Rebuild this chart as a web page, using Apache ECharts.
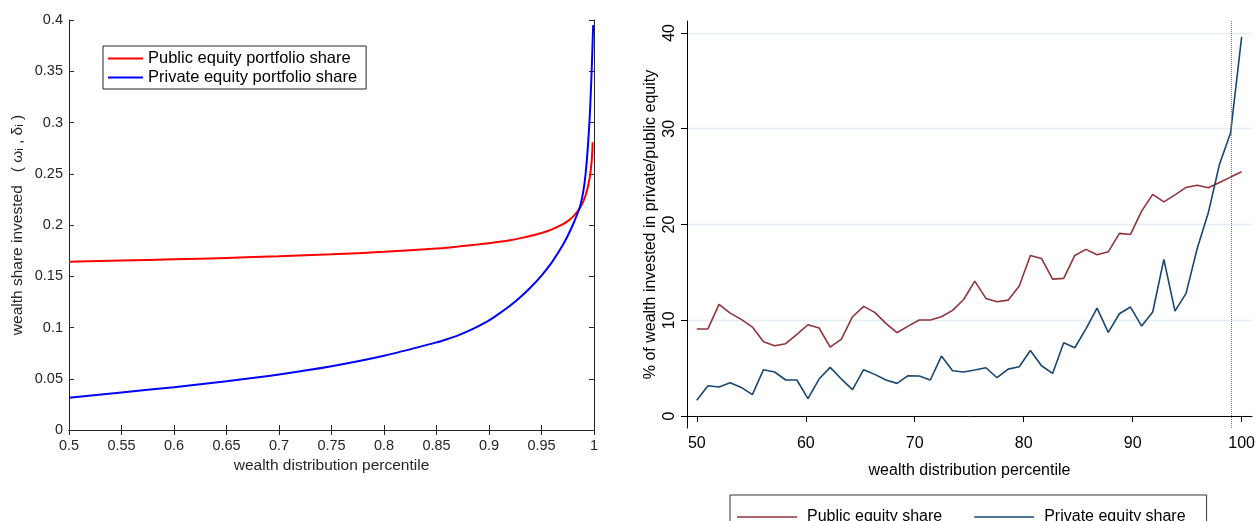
<!DOCTYPE html>
<html>
<head>
<meta charset="utf-8">
<script src="https://cdn.jsdelivr.net/npm/echarts@6/dist/echarts.min.js"></script>
<style>
html,body{margin:0;padding:0;background:#fff;}
#c{width:1258px;height:521px;}
</style>
</head>
<body>
<div id="c"></div>
<script>
// ---- Left panel (model) ----
var leftX = [0.5, 0.55, 0.6, 0.65, 0.7, 0.75, 0.8, 0.85, 0.86, 0.87, 0.88, 0.89, 0.9, 0.91, 0.92, 0.93, 0.94, 0.95, 0.96, 0.97, 0.975, 0.98, 0.984, 0.987, 0.99, 0.992, 0.994, 0.996, 0.997, 0.998, 0.9987, 0.9992];
var publicPortfolio = [0.1642, 0.1653, 0.1665, 0.1679, 0.1695, 0.1714, 0.1738, 0.1770, 0.1778, 0.1789, 0.1800, 0.1811, 0.1822, 0.1836, 0.1852, 0.1872, 0.1895, 0.1922, 0.1958, 0.2005, 0.2038, 0.2082, 0.2128, 0.2172, 0.2235, 0.2290, 0.2365, 0.2470, 0.2545, 0.2650, 0.2807, null];
var privatePortfolio = [0.0315, 0.0367, 0.0418, 0.0476, 0.0542, 0.0622, 0.0724, 0.0855, 0.0886, 0.0921, 0.0964, 0.1014, 0.1070, 0.1138, 0.1212, 0.1298, 0.1395, 0.1506, 0.1638, 0.1800, 0.1895, 0.2005, 0.2105, 0.2190, 0.2340, 0.2500, 0.2740, 0.3070, 0.3300, 0.3570, 0.3790, 0.3950];
var leftXTicks = [0.5, 1, 0.05];
var leftYTicks = [0, 0.4, 0.05];

// ---- Right panel (data) ----
var pctl = [50, 51.02, 52.04, 53.06, 54.08, 55.10, 56.12, 57.14, 58.16, 59.18, 60.20, 61.22, 62.24, 63.27, 64.29, 65.31, 66.33, 67.35, 68.37, 69.39, 70.41, 71.43, 72.45, 73.47, 74.49, 75.51, 76.53, 77.55, 78.57, 79.59, 80.61, 81.63, 82.65, 83.67, 84.69, 85.71, 86.73, 87.76, 88.78, 89.80, 90.82, 91.84, 92.86, 93.88, 94.90, 95.92, 96.94, 97.96, 98.98, 100];
var publicShare = [9.08, 9.10, 11.66, 10.75, 10.09, 9.29, 7.76, 7.34, 7.55, 8.53, 9.53, 9.19, 7.20, 8.04, 10.37, 11.45, 10.82, 9.67, 8.70, 9.39, 10.02, 10.02, 10.37, 11.03, 12.17, 14.09, 12.28, 11.93, 12.10, 13.57, 16.77, 16.46, 14.30, 14.37, 16.77, 17.40, 16.84, 17.15, 19.07, 18.96, 21.40, 23.14, 22.37, 23.10, 23.87, 24.10, 23.83, 24.39, 24.95, 25.50];
var privateShare = [1.64, 3.17, 3.03, 3.48, 2.99, 2.23, 4.84, 4.60, 3.76, 3.76, 1.81, 3.86, 5.08, 3.86, 2.75, 4.84, 4.35, 3.76, 3.41, 4.21, 4.18, 3.76, 6.26, 4.73, 4.60, 4.80, 5.04, 4.00, 4.90, 5.15, 6.85, 5.25, 4.45, 7.65, 7.13, 9.11, 11.27, 8.73, 10.68, 11.38, 9.39, 10.86, 16.36, 10.96, 12.81, 17.50, 21.22, 26.27, 29.55, 39.60];
var rightXTicks = [50, 60, 70, 80, 90, 100];
var rightYTicks = [0, 10, 20, 30, 40];
var refLineX = 99;

function zip(xs, ys) {
  var out = [];
  for (var i = 0; i < xs.length; i++) { if (ys[i] != null) out.push([xs[i], ys[i]]); }
  return out;
}
function fmt(v) { return String(+(+v).toFixed(2)); }

var FONT = '"Liberation Sans", Arial, Helvetica, sans-serif';
var mc = '#262626';

var chart = echarts.init(document.getElementById('c'), null, {renderer: 'canvas'});
chart.setOption({
  animation: false,
  backgroundColor: '#fff',
  textStyle: {fontFamily: FONT},
  grid: [
    {left: 69, top: 20, width: 525, height: 410},
    {left: 687, top: 21, width: 567, height: 407}
  ],
  legend: [
    {
      data: ['Public equity portfolio share', 'Private equity portfolio share'],
      orient: 'vertical', left: 103, top: 46, icon: 'rect',
      padding: [3, 9, 2, 5], itemWidth: 35, itemHeight: 2, itemGap: 0,
      textStyle: {fontSize: 16.5, color: '#000', lineHeight: 19, fontFamily: FONT},
      borderColor: mc, borderWidth: 1, backgroundColor: '#fff', selectedMode: false
    },
    {
      data: ['Public equity share', 'Private equity share'],
      orient: 'horizontal', left: 730, top: 495, icon: 'rect',
      padding: [12, 21, 20, 7], itemWidth: 60, itemHeight: 1.5, itemGap: 32,
      textStyle: {fontSize: 16, color: '#000', lineHeight: 20, padding: [0, 0, 0, 5], fontFamily: FONT},
      borderColor: '#333', borderWidth: 1, selectedMode: false
    }
  ],
  xAxis: [
    {
      gridIndex: 0, type: 'value', min: leftXTicks[0], max: leftXTicks[1], interval: leftXTicks[2],
      position: 'bottom',
      axisLine: {lineStyle: {color: mc, width: 1}},
      axisTick: {inside: true, length: 5, lineStyle: {color: mc}},
      axisLabel: {fontSize: 14.5, color: mc, margin: 8, formatter: fmt, fontFamily: FONT},
      splitLine: {show: false},
      name: 'wealth distribution percentile', nameLocation: 'middle', nameGap: 24,
      nameTextStyle: {fontSize: 15.5, color: mc, fontFamily: FONT}
    },
    {
      gridIndex: 0, type: 'value', min: leftXTicks[0], max: leftXTicks[1], interval: leftXTicks[2],
      position: 'top',
      axisLine: {lineStyle: {color: mc, width: 1}},
      axisTick: {inside: true, length: 5, lineStyle: {color: mc}},
      axisLabel: {show: false}, splitLine: {show: false}
    },
    {
      gridIndex: 1, type: 'value', min: 49.1, max: 100.95,
      axisLine: {lineStyle: {color: '#000', width: 1}},
      axisTick: {customValues: rightXTicks, length: 6, lineStyle: {color: '#000'}},
      axisLabel: {customValues: rightXTicks, fontSize: 16, color: '#000', margin: 8, fontFamily: FONT},
      splitLine: {show: false},
      name: 'wealth distribution percentile', nameLocation: 'middle', nameGap: 35,
      nameTextStyle: {fontSize: 16, color: '#000', fontFamily: FONT}
    }
  ],
  yAxis: [
    {
      gridIndex: 0, type: 'value', min: leftYTicks[0], max: leftYTicks[1], interval: leftYTicks[2],
      position: 'left',
      axisLine: {show: true, lineStyle: {color: mc, width: 1}},
      axisTick: {show: true, inside: true, length: 5, lineStyle: {color: mc}},
      axisLabel: {fontSize: 14.5, color: mc, margin: 6, formatter: fmt, fontFamily: FONT},
      splitLine: {show: false},
      name: 'wealth share invested   ( \u03c9\u1d62 , \u03b4\u1d62 )', nameLocation: 'middle', nameGap: 43,
      nameTextStyle: {fontSize: 15.5, color: mc, fontFamily: FONT}
    },
    {
      gridIndex: 0, type: 'value', min: leftYTicks[0], max: leftYTicks[1], interval: leftYTicks[2],
      position: 'right',
      axisLine: {show: true, lineStyle: {color: mc, width: 1}},
      axisTick: {show: true, inside: true, length: 5, lineStyle: {color: mc}},
      axisLabel: {show: false}, splitLine: {show: false}
    },
    {
      gridIndex: 1, type: 'value', min: -1.25, max: 41.25,
      axisLine: {show: true, lineStyle: {color: '#000', width: 1}},
      axisTick: {show: true, customValues: rightYTicks, length: 6, lineStyle: {color: '#000'}},
      axisLabel: {customValues: rightYTicks, rotate: 90, fontSize: 16, color: '#000', margin: 9, fontFamily: FONT},
      splitLine: {show: true, lineStyle: {color: '#e4edf2', width: 1.3}},
      name: '% of wealth invested in private/public equity', nameLocation: 'middle', nameGap: 28,
      nameTextStyle: {fontSize: 16, color: '#000', fontFamily: FONT}
    }
  ],
  series: [
    {
      name: 'Public equity portfolio share', type: 'line', xAxisIndex: 0, yAxisIndex: 0,
      data: zip(leftX, publicPortfolio), symbol: 'none', smooth: 0.3,
      lineStyle: {color: '#ff0000', width: 2}, itemStyle: {color: '#ff0000'}, z: 3
    },
    {
      name: 'Private equity portfolio share', type: 'line', xAxisIndex: 0, yAxisIndex: 0,
      data: zip(leftX, privatePortfolio), symbol: 'none', smooth: 0.3,
      lineStyle: {color: '#0000ff', width: 2}, itemStyle: {color: '#0000ff'}, z: 4
    },
    {
      name: 'Public equity share', type: 'line', xAxisIndex: 2, yAxisIndex: 2,
      data: zip(pctl, publicShare), symbol: 'none',
      lineStyle: {color: '#90353b', width: 1.6}, itemStyle: {color: '#90353b'}
    },
    {
      name: 'Private equity share', type: 'line', xAxisIndex: 2, yAxisIndex: 2,
      data: zip(pctl, privateShare), symbol: 'none',
      lineStyle: {color: '#1a476f', width: 1.6}, itemStyle: {color: '#1a476f'},
      markLine: {
        silent: true, symbol: ['none', 'none'], label: {show: false},
        lineStyle: {type: 'dotted', color: '#777', width: 1},
        data: [{xAxis: refLineX}]
      }
    }
  ]
});
</script>
</body>
</html>
